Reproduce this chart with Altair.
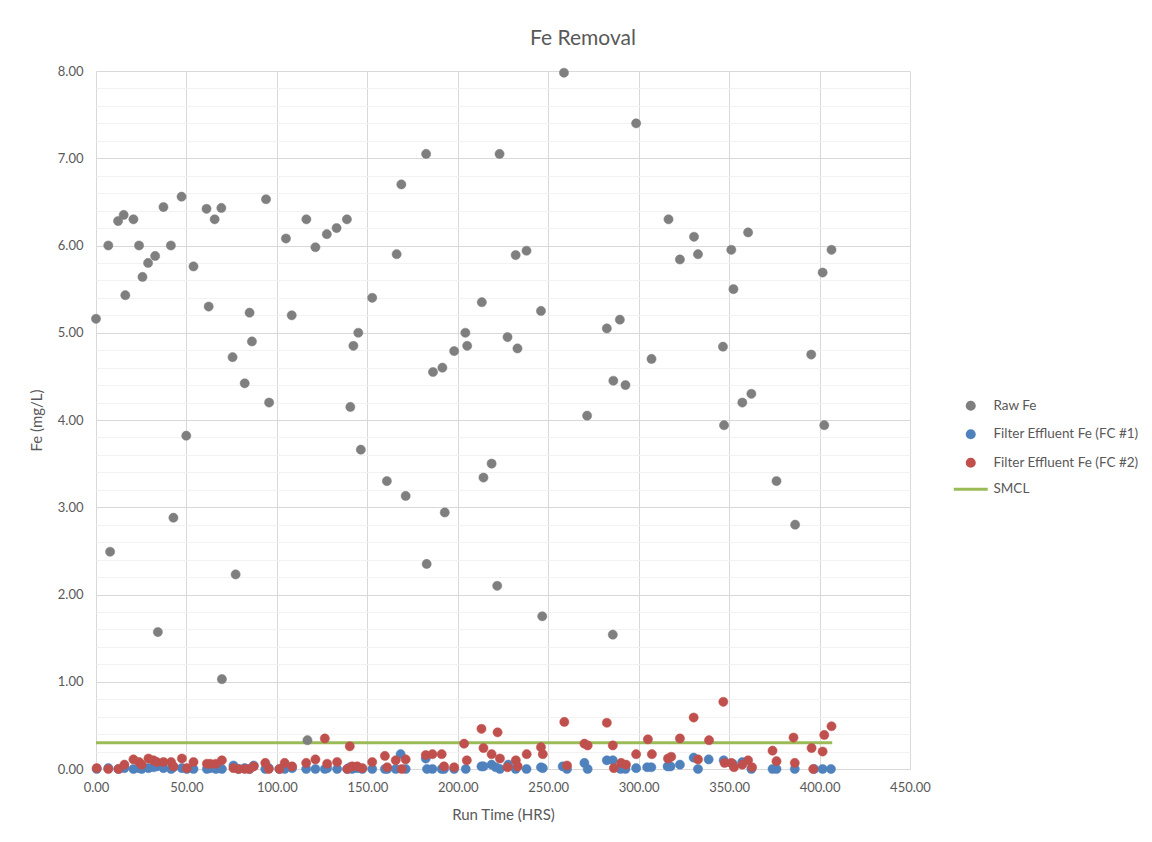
import altair as alt
import pandas as pd

# ---------------- data ----------------
raw_time = [0, 6.8, 7.8, 12.2, 15.3, 16.2, 20.7, 23.8, 25.7, 28.8, 32.7, 34.2, 37.3, 41.4, 42.8,
            47.3, 49.9, 53.9, 61.1, 62.3, 65.6, 69.3, 69.6, 75.5, 77.2, 82.2, 84.9, 86.2, 94.0,
            95.7, 105.0, 108.2, 116.3, 116.9, 121.3, 127.6, 133.0, 138.7, 140.6, 142.3, 145.0,
            146.4, 152.7, 160.8, 166.2, 168.8, 171.2, 182.5, 182.8, 186.3, 191.5, 192.8, 198.0,
            204.2, 205.2, 213.3, 214.2, 218.7, 221.8, 223.1, 227.5, 232.0, 233.0, 238.0, 246.0,
            246.7, 258.7, 271.5, 282.4, 285.7, 286.0, 289.6, 292.7, 298.6, 307.1, 316.5, 322.8,
            330.6, 332.8, 346.6, 347.2, 351.2, 352.4, 357.3, 360.5, 362.3, 376.2, 386.5, 395.4,
            401.7, 402.6, 406.6]
raw_fe = [5.16, 6.00, 2.49, 6.28, 6.35, 5.43, 6.30, 6.00, 5.64, 5.80, 5.88, 1.57, 6.44, 6.00, 2.88,
          6.56, 3.82, 5.76, 6.42, 5.30, 6.30, 6.43, 1.03, 4.72, 2.23, 4.42, 5.23, 4.90, 6.53,
          4.20, 6.08, 5.20, 6.30, 0.33, 5.98, 6.13, 6.20, 6.30, 4.15, 4.85, 5.00,
          3.66, 5.40, 3.30, 5.90, 6.70, 3.13, 7.05, 2.35, 4.55, 4.60, 2.94, 4.79,
          5.00, 4.85, 5.35, 3.34, 3.50, 2.10, 7.05, 4.95, 5.89, 4.82, 5.94, 5.25,
          1.75, 7.98, 4.05, 5.05, 1.54, 4.45, 5.15, 4.40, 7.40, 4.70, 6.30, 5.84,
          6.10, 5.90, 4.84, 3.94, 5.95, 5.50, 4.20, 6.15, 4.30, 3.30, 2.80, 4.75,
          5.69, 3.94, 5.95]

fc1_time = [0.4, 6.8, 12.4, 15.7, 20.7, 23.8, 25.3, 29.0, 31.8, 33.6, 37.3, 41.5, 42.8, 47.5, 50.2,
            53.9, 61.3, 63.2, 66.3, 69.6, 76.0, 78.8, 82.2, 84.8, 87.2, 93.6, 95.5, 101.4, 104.3,
            108.4, 116.2, 121.3, 126.5, 127.8, 133.3, 138.9, 140.3, 141.6, 144.4, 147.2, 152.7,
            159.7, 161.0, 165.7, 168.4, 171.2, 182.3, 183.0, 186.0, 191.1, 192.4, 198.0,
            204.4, 213.1, 214.2, 218.7, 221.0, 223.3, 227.9, 232.0, 238.0, 246.0, 247.0, 258.0,
            260.4, 270.0, 271.8, 282.4, 285.7, 290.0, 292.7, 298.6, 304.7, 307.0, 316.0, 317.6,
            322.8, 330.4, 332.8, 338.7, 347.0, 352.0, 357.3, 362.3, 374.0, 376.2, 386.3, 397.0,
            401.7, 406.3]
fc1_fe = [0.00, 0.01, 0.00, 0.01, 0.00, 0.01, 0.00, 0.01, 0.02, 0.03, 0.01, 0.00, 0.02, 0.01, 0.00,
          0.00, 0.00, 0.01, 0.00, 0.00, 0.04, 0.00, 0.01, 0.00, 0.04, 0.00, 0.01, 0.00, 0.00,
          0.01, 0.00, 0.00, 0.00, 0.01, 0.00, 0.00, 0.02, 0.00, 0.01, 0.00, 0.00,
          0.00, 0.00, 0.00, 0.17, 0.00, 0.12, 0.00, 0.00, 0.00, 0.00, 0.00,
          0.00, 0.03, 0.03, 0.05, 0.02, 0.00, 0.05, 0.00, 0.00, 0.02, 0.01, 0.03,
          0.00, 0.07, 0.00, 0.10, 0.10, 0.00, 0.00, 0.01, 0.02, 0.02, 0.03, 0.03,
          0.05, 0.13, 0.00, 0.11, 0.10, 0.06, 0.08, 0.00, 0.00, 0.00, 0.00, 0.00,
          0.00, 0.00]

fc2_time = [0.4, 6.8, 12.4, 15.7, 20.7, 23.8, 25.3, 29.0, 31.8, 33.6, 37.3, 41.5, 42.8, 47.5, 50.2,
            53.9, 61.3, 63.2, 66.3, 69.6, 76.0, 78.8, 82.2, 84.8, 87.2, 93.6, 95.5, 101.4, 104.3,
            108.4, 116.2, 121.3, 126.5, 127.8, 133.3, 138.9, 140.3, 141.6, 144.4, 147.2, 152.7,
            159.7, 161.0, 165.7, 169.0, 171.2, 182.3, 186.0, 191.1, 192.4, 198.0, 203.5,
            205.0, 213.1, 214.2, 218.7, 222.0, 223.3, 227.5, 232.1, 233.1, 238.1, 246.0, 247.0,
            258.9, 260.4, 270.0, 271.8, 282.4, 285.7, 286.3, 290.3, 293.0, 298.6, 305.1, 307.3,
            316.2, 318.0, 322.8, 330.4, 332.8, 338.9, 346.8, 347.5, 351.2, 352.7, 357.3, 360.5,
            362.7, 374.0, 376.2, 385.6, 386.3, 395.6, 396.5, 401.7, 402.6, 406.6]
fc2_fe = [0.01, 0.00, 0.00, 0.05, 0.11, 0.08, 0.05, 0.12, 0.10, 0.08, 0.08, 0.08, 0.03, 0.12, 0.01,
          0.08, 0.06, 0.06, 0.06, 0.10, 0.01, 0.00, 0.00, 0.00, 0.03, 0.07, 0.00, 0.00, 0.07,
          0.03, 0.07, 0.11, 0.35, 0.06, 0.08, 0.00, 0.26, 0.03, 0.03, 0.01, 0.08,
          0.15, 0.02, 0.10, 0.00, 0.11, 0.16, 0.17, 0.17, 0.03, 0.02, 0.29,
          0.10, 0.46, 0.24, 0.17, 0.42, 0.12, 0.02, 0.10, 0.03, 0.17, 0.25, 0.17,
          0.54, 0.04, 0.29, 0.27, 0.53, 0.27, 0.01, 0.07, 0.05, 0.17, 0.34, 0.17,
          0.12, 0.14, 0.35, 0.59, 0.11, 0.33, 0.77, 0.07, 0.07, 0.02, 0.05, 0.10,
          0.02, 0.21, 0.09, 0.36, 0.07, 0.24, 0.00, 0.20, 0.39, 0.49]

smcl_time = [0, 407]
smcl_fe = [0.3, 0.3]

series_names = ["Raw Fe", "Filter Effluent Fe (FC #1)", "Filter Effluent Fe (FC #2)", "SMCL"]
series_colors = ["#7f7f7f", "#4f81bd", "#c0504d", "#9bbb59"]
series_shapes = ["circle", "circle", "circle", "M-4.8,0L4.8,0"]

x_ticks = [0, 50, 100, 150, 200, 250, 300, 350, 400, 450]
y_ticks = [round(i * 0.2, 1) for i in range(41)]   # major every 1.00, minor every 0.20

# ---------------- tables ----------------
pts = pd.concat([
    pd.DataFrame({"time": raw_time, "fe": raw_fe, "series": series_names[0]}),
    pd.DataFrame({"time": fc1_time, "fe": fc1_fe, "series": series_names[1]}),
    pd.DataFrame({"time": fc2_time, "fe": fc2_fe, "series": series_names[2]}),
], ignore_index=True)
line_df = pd.DataFrame({"time": smcl_time, "fe": smcl_fe, "series": series_names[3]})

FONT = "Lato"
TXT = "#595959"
GRID = "#d9d9d9"
MINOR = "#f2f2f2"
IS_MAJOR = "abs(datum.value - round(datum.value)) < 0.001"

x_enc = alt.X("time:Q", scale=alt.Scale(domain=[0, 450], nice=False, zero=False),
              axis=alt.Axis(values=x_ticks, format=".2f", title="Run Time (HRS)",
                            grid=True, gridColor=GRID, domainColor=GRID, ticks=False, tickSize=0,
                            labelPadding=12, labelFontSize=13, labelColor=TXT, labelFont=FONT,
                            titleFontSize=15, titleColor=TXT, titleFont=FONT,
                            titleFontWeight="normal", titlePadding=13, labelFlush=False))
y_enc = alt.Y("fe:Q", scale=alt.Scale(domain=[0, 8], nice=False),
              axis=alt.Axis(values=y_ticks, grid=True,
                            gridColor={"condition": {"test": IS_MAJOR, "value": GRID}, "value": MINOR},
                            labelExpr=f"({IS_MAJOR}) ? format(datum.value, '.2f') : ''",
                            domain=False, ticks=False, tickSize=0, labelPadding=13,
                            labelFontSize=13, labelColor=TXT, labelFont=FONT,
                            title="Fe (mg/L)", titleFontSize=15, titleColor=TXT, titleFont=FONT,
                            titleFontWeight="normal", titlePadding=13))

color_scale = alt.Scale(domain=series_names, range=series_colors)
shape_scale = alt.Scale(domain=series_names, range=series_shapes)

legend = alt.Legend(title=None, orient="none", legendX=868, legendY=328,
                    labelFont=FONT, labelFontSize=13.5, labelColor=TXT, labelOffset=16,
                    symbolSize=50, symbolStrokeWidth=3, rowPadding=8.5,
                    labelLimit=300)

points = alt.Chart(pts).mark_point(filled=True, size=85, opacity=1, strokeWidth=0.5).encode(
    x=x_enc,
    y=y_enc,
    fill=alt.Fill("series:N", scale=color_scale, legend=legend),
    stroke=alt.Stroke("series:N", scale=color_scale, legend=legend),
    shape=alt.Shape("series:N", scale=shape_scale, legend=legend),
)

smcl = alt.Chart(line_df).mark_line(strokeWidth=3).encode(
    x=x_enc,
    y=y_enc,
    stroke=alt.Stroke("series:N", scale=color_scale, legend=legend),
)

chart = alt.layer(smcl, points).properties(
    width=814, height=698,
    padding={"left": 88, "top": 63, "right": 234, "bottom": 59},
    autosize=alt.AutoSizeParams(type="none"),
    title=alt.TitleParams("Fe Removal", fontSize=21, color=TXT, font=FONT, fontWeight="normal",
                          anchor="middle", dx=80, offset=16),
    background="white",
).configure_view(strokeWidth=0)

chart.save("out.html", embed_options={"renderer": "svg", "actions": False})
